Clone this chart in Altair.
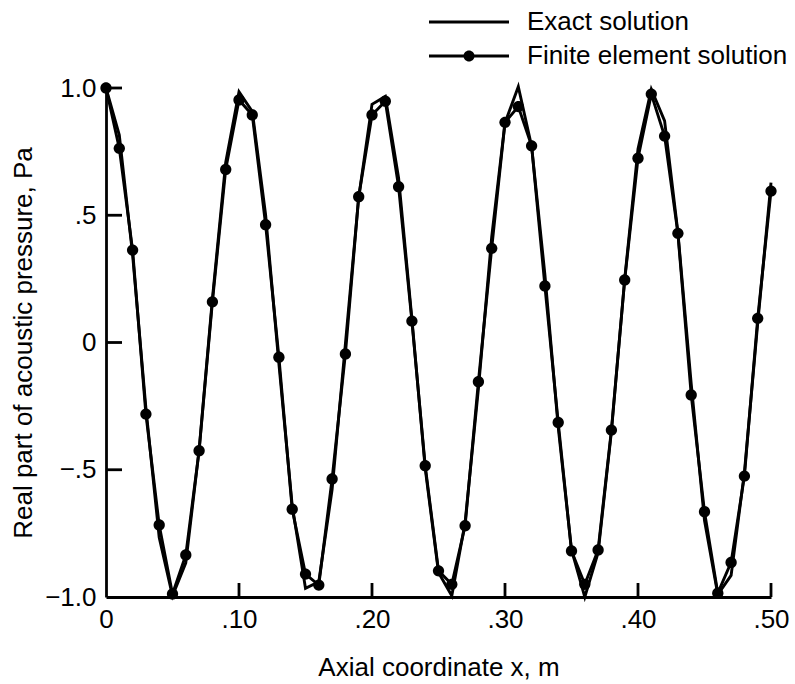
import altair as alt
import pandas as pd

x_m = [0.00, 0.01, 0.02, 0.03, 0.04, 0.05, 0.06, 0.07, 0.08, 0.09,
       0.10, 0.11, 0.12, 0.13, 0.14, 0.15, 0.16, 0.17, 0.18, 0.19,
       0.20, 0.21, 0.22, 0.23, 0.24, 0.25, 0.26, 0.27, 0.28, 0.29,
       0.30, 0.31, 0.32, 0.33, 0.34, 0.35, 0.36, 0.37, 0.38, 0.39,
       0.40, 0.41, 0.42, 0.43, 0.44, 0.45, 0.46, 0.47, 0.48, 0.49, 0.50]

exact_pa = [1.000, 0.815, 0.345, -0.258, -0.766, -0.996, -0.866, -0.423, 0.171, 0.707,
            0.985, 0.908, 0.502, -0.084, -0.641, -0.966, -0.940, -0.578, -0.005, 0.570,
            0.936, 0.967, 0.647, 0.093, -0.494, -0.904, -0.995, -0.707, -0.182, 0.415,
            0.863, 1.005, 0.771, 0.267, -0.333, -0.814, -1.000, -0.826, -0.350, 0.249,
            0.760, 0.995, 0.871, 0.433, -0.162, -0.700, -0.990, -0.915, -0.511, 0.075, 0.628]

fe_pa = [1.000, 0.763, 0.363, -0.281, -0.717, -0.988, -0.835, -0.425, 0.160, 0.680,
         0.953, 0.894, 0.463, -0.058, -0.655, -0.910, -0.953, -0.536, -0.045, 0.573,
         0.894, 0.948, 0.612, 0.084, -0.484, -0.897, -0.950, -0.720, -0.154, 0.370,
         0.865, 0.927, 0.773, 0.222, -0.314, -0.819, -0.950, -0.815, -0.344, 0.246,
         0.724, 0.976, 0.811, 0.429, -0.206, -0.665, -0.985, -0.864, -0.525, 0.095, 0.595]

series_names = ["Exact solution", "Finite element solution"]
x_ticks = [0.10, 0.20, 0.30, 0.40, 0.50]
y_ticks = [-0.5, 0.0, 0.5, 1.0]

df = pd.concat([
    pd.DataFrame({"x": x_m, "y": exact_pa, "series": series_names[0]}),
    pd.DataFrame({"x": x_m, "y": fe_pa, "series": series_names[1]}),
], ignore_index=True)

W, H = 665, 509
FONT = "Liberation Sans"
FS = 26
LW = 2.9

xscale = alt.Scale(domain=[0, 0.5], nice=False, zero=False)
yscale = alt.Scale(domain=[-1, 1], nice=False, zero=False)

xaxis = alt.Axis(
    values=[0, 0.1, 0.2, 0.3, 0.4, 0.5],
    labelExpr="datum.value == 0 ? '0' : replace(format(datum.value, '.2f'), '0.', '.')",
    title="Axial coordinate x, m",
    grid=False, ticks=False, domain=True, domainColor="black", domainWidth=2.8,
    labelFont=FONT, labelFontSize=FS, labelColor="black", labelPadding=9,
    titleFont=FONT, titleFontSize=FS, titleFontWeight="normal", titleColor="black",
    titlePadding=22, labelFlush=False,
)
yaxis = alt.Axis(
    values=[-1, -0.5, 0, 0.5, 1],
    labelExpr="datum.value == 1 ? '1.0' : datum.value == 0.5 ? '.5' : datum.value == 0 ? '0' : datum.value == -0.5 ? '\u2212.5' : '\u22121.0'",
    title="Real part of acoustic pressure, Pa",
    grid=False, ticks=False, domain=True, domainColor="black", domainWidth=2.8,
    labelFont=FONT, labelFontSize=FS, labelColor="black", labelPadding=10,
    titleFont=FONT, titleFontSize=FS, titleFontWeight="normal", titleColor="black",
    titlePadding=8, labelFlush=False,
)

line_path = "M-4,0H4"
dot_path = "M0.55,0A0.55,0.55 0 1,1 -0.55,0A0.55,0.55 0 1,1 0.55,0Z"
empty_path = "M0,0Z"

LX, LY = 350, -79

base = alt.Chart(df)

lines = base.mark_line(strokeWidth=LW, strokeJoin="miter").encode(
    x=alt.X("x:Q", scale=xscale, axis=xaxis),
    y=alt.Y("y:Q", scale=yscale, axis=yaxis),
    color=alt.Color(
        "series:N",
        scale=alt.Scale(domain=series_names, range=["black", "black"]),
        legend=alt.Legend(
            title=None, orient="none", legendX=LX, legendY=LY,
            symbolType=line_path, symbolSize=400, symbolStrokeWidth=LW,
            labelFont=FONT, labelFontSize=FS, labelColor="black",
            labelOffset=45, labelLimit=600, rowPadding=8, padding=0,
        ),
    ),
)

points = base.transform_filter(
    alt.datum.series == series_names[1]
).transform_calculate(
    marker="datum.series + ' '"
).mark_point(filled=True, color="black", opacity=1, size=420).encode(
    x=alt.X("x:Q", scale=xscale),
    y=alt.Y("y:Q", scale=yscale),
    shape=alt.Shape(
        "marker:N",
        scale=alt.Scale(domain=[s + " " for s in series_names], range=[empty_path, dot_path]),
        legend=alt.Legend(
            title=None, orient="none", legendX=LX, legendY=LY,
            symbolSize=400, symbolFillColor="black", symbolStrokeWidth=0,
            labelFont=FONT, labelFontSize=FS, labelColor="transparent",
            labelOffset=45, labelLimit=600, rowPadding=8, padding=0,
        ),
    ),
)

xt = pd.DataFrame({"v": x_ticks})
yt = pd.DataFrame({"v": y_ticks})
xtick_marks = alt.Chart(xt).mark_rule(color="black", strokeWidth=2.8).encode(
    x=alt.X("v:Q", scale=xscale), y=alt.value(H), y2=alt.value(H - 14)
)
ytick_marks = alt.Chart(yt).mark_rule(color="black", strokeWidth=2.8).encode(
    y=alt.Y("v:Q", scale=yscale), x=alt.value(0), x2=alt.value(16)
)

chart = alt.layer(lines, points, xtick_marks, ytick_marks).properties(
    width=W, height=H,
    autosize=alt.AutoSizeParams(type="none"),
    padding={"left": 106, "top": 88, "right": 24, "bottom": 87},
    background="white",
).resolve_legend(color="independent", shape="independent").configure_view(stroke=None)

chart.save("out.html", embed_options={"renderer": "svg", "actions": False})
